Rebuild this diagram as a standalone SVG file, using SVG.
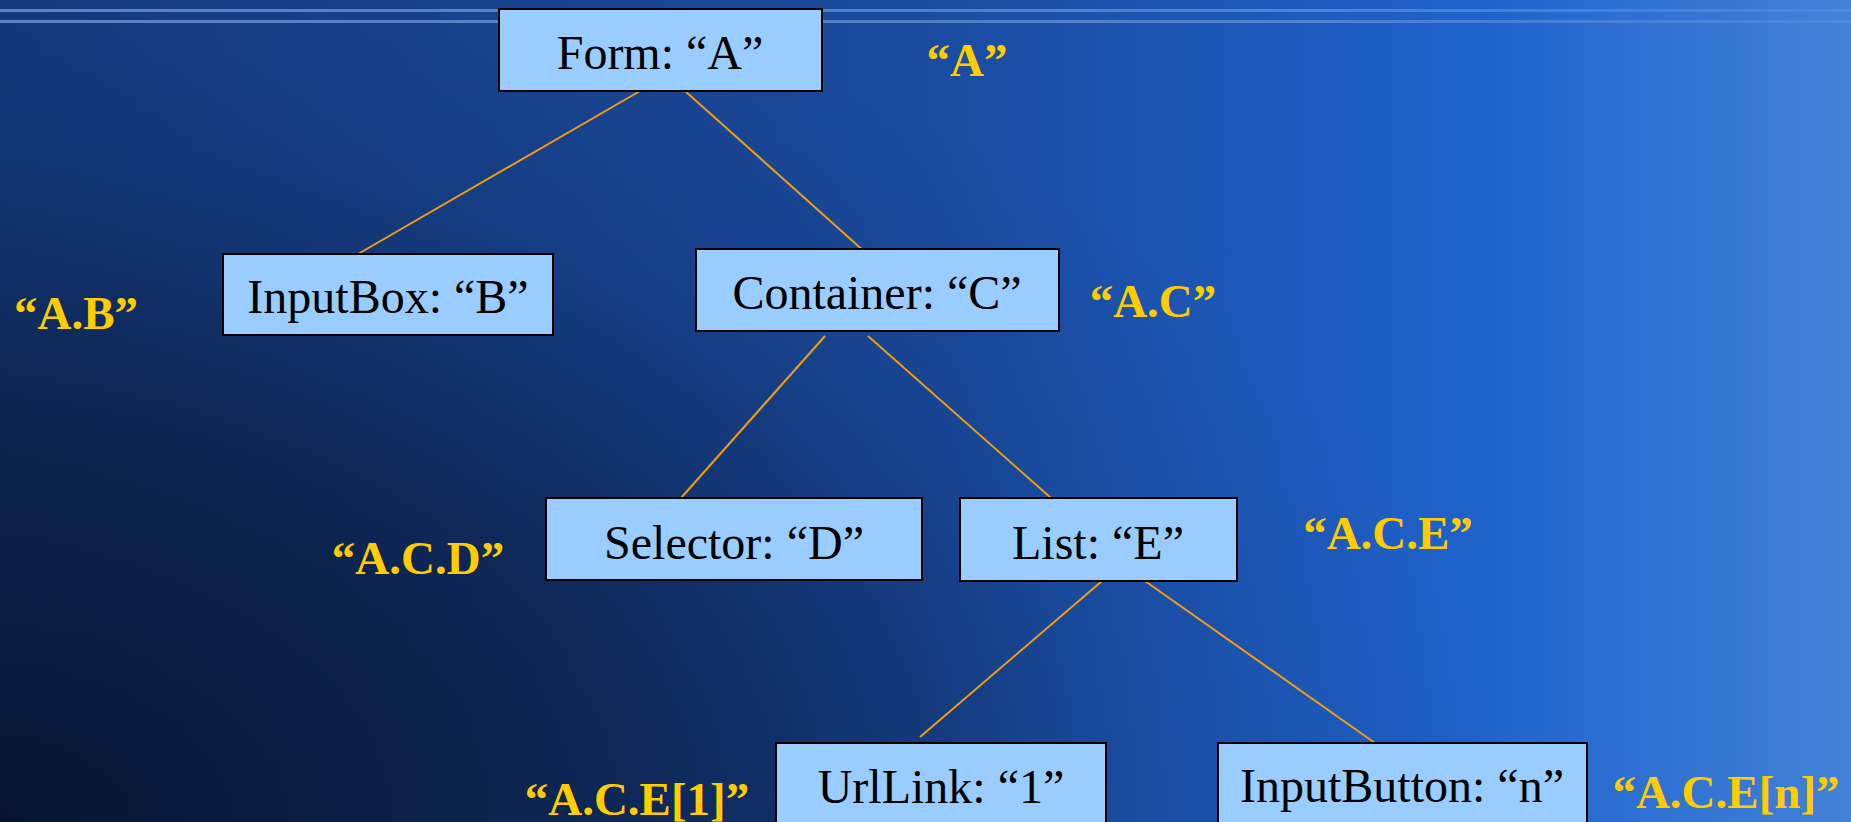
<svg xmlns="http://www.w3.org/2000/svg" width="1851" height="822" viewBox="0 0 1851 822">
  <defs>
    <linearGradient id="bgBase" x1="0" y1="0" x2="1851" y2="0" gradientUnits="userSpaceOnUse">
      <stop offset="0" stop-color="#153c80"/>
      <stop offset="0.5" stop-color="#1a4b9f"/>
      <stop offset="0.8" stop-color="#1f62cc"/>
      <stop offset="1" stop-color="#4282d8"/>
    </linearGradient>
    <radialGradient id="bgShade" cx="0" cy="822" r="1" gradientUnits="userSpaceOnUse" gradientTransform="translate(0 822) scale(1500 900) translate(0 -822)">
      <stop offset="0" stop-color="#050e24" stop-opacity="0.88"/>
      <stop offset="0.45" stop-color="#050e24" stop-opacity="0.52"/>
      <stop offset="0.75" stop-color="#050e24" stop-opacity="0.12"/>
      <stop offset="1" stop-color="#050e24" stop-opacity="0"/>
    </radialGradient>
    <linearGradient id="stripeFade" x1="0" y1="0" x2="1851" y2="0" gradientUnits="userSpaceOnUse">
      <stop offset="0" stop-color="#8fb4f0" stop-opacity="0.6"/>
      <stop offset="0.7" stop-color="#8fb4f0" stop-opacity="0.45"/>
      <stop offset="1" stop-color="#8fb4f0" stop-opacity="0.15"/>
    </linearGradient>
    <style>
      .box { fill: #99ccff; stroke: #000000; stroke-width: 2; }
      .name { font-family: "Liberation Serif", "Times New Roman", serif; font-size: 48px; fill: #000000; text-anchor: middle; }
      .path { font-family: "Liberation Serif", "Times New Roman", serif; font-size: 47px; font-weight: bold; fill: #ffcc00; text-anchor: middle; }
      .edge { stroke: #f39c12; stroke-width: 2; fill: none; }
    </style>
  </defs>

  <!-- background -->
  <rect x="0" y="0" width="1851" height="822" fill="url(#bgBase)"/>
  <rect x="0" y="0" width="1851" height="822" fill="url(#bgShade)"/>
  <rect x="0" y="9" width="1851" height="3" fill="url(#stripeFade)"/>
  <rect x="0" y="20" width="1851" height="3" fill="url(#stripeFade)"/>

  <!-- tree edges -->
  <g id="connectors">
    <line class="edge" x1="640" y1="91" x2="358" y2="254"/>
    <line class="edge" x1="685" y1="91" x2="866" y2="253"/>
    <line class="edge" x1="825" y1="336" x2="681" y2="498"/>
    <line class="edge" x1="868" y1="336" x2="1051" y2="498"/>
    <line class="edge" x1="1102" y1="581" x2="920" y2="737"/>
    <line class="edge" x1="1145" y1="581" x2="1375" y2="743"/>
  </g>

  <g id="node-form">
    <rect class="box" x="499" y="9" width="323" height="82"/>
    <text class="name" x="660" y="69">Form: “A”</text>
  </g>
  <g id="node-inputbox">
    <rect class="box" x="223" y="254" width="330" height="81"/>
    <text class="name" x="388" y="313">InputBox: “B”</text>
  </g>
  <g id="node-container">
    <rect class="box" x="696" y="249" width="363" height="82"/>
    <text class="name" x="877" y="309">Container: “C”</text>
  </g>
  <g id="node-selector">
    <rect class="box" x="546" y="498" width="376" height="82"/>
    <text class="name" x="734" y="559">Selector: “D”</text>
  </g>
  <g id="node-list">
    <rect class="box" x="960" y="498" width="277" height="83"/>
    <text class="name" x="1098" y="559">List: “E”</text>
  </g>
  <g id="node-urllink">
    <rect class="box" x="776" y="743" width="330" height="100"/>
    <text class="name" x="941" y="803">UrlLink: “1”</text>
  </g>
  <g id="node-inputbutton">
    <rect class="box" x="1218" y="743" width="369" height="100"/>
    <text class="name" x="1402" y="802">InputButton: “n”</text>
  </g>

  <!-- path labels -->
  <g id="paths">
    <text class="path" x="967" y="76">“A”</text>
    <text class="path" x="76" y="329">“A.B”</text>
    <text class="path" x="1153" y="317">“A.C”</text>
    <text class="path" x="418" y="574">“A.C.D”</text>
    <text class="path" x="1388" y="549">“A.C.E”</text>
    <text class="path" x="637" y="815">“A.C.E[1]”</text>
    <text class="path" x="1726" y="808">“A.C.E[n]”</text>
  </g>
</svg>
